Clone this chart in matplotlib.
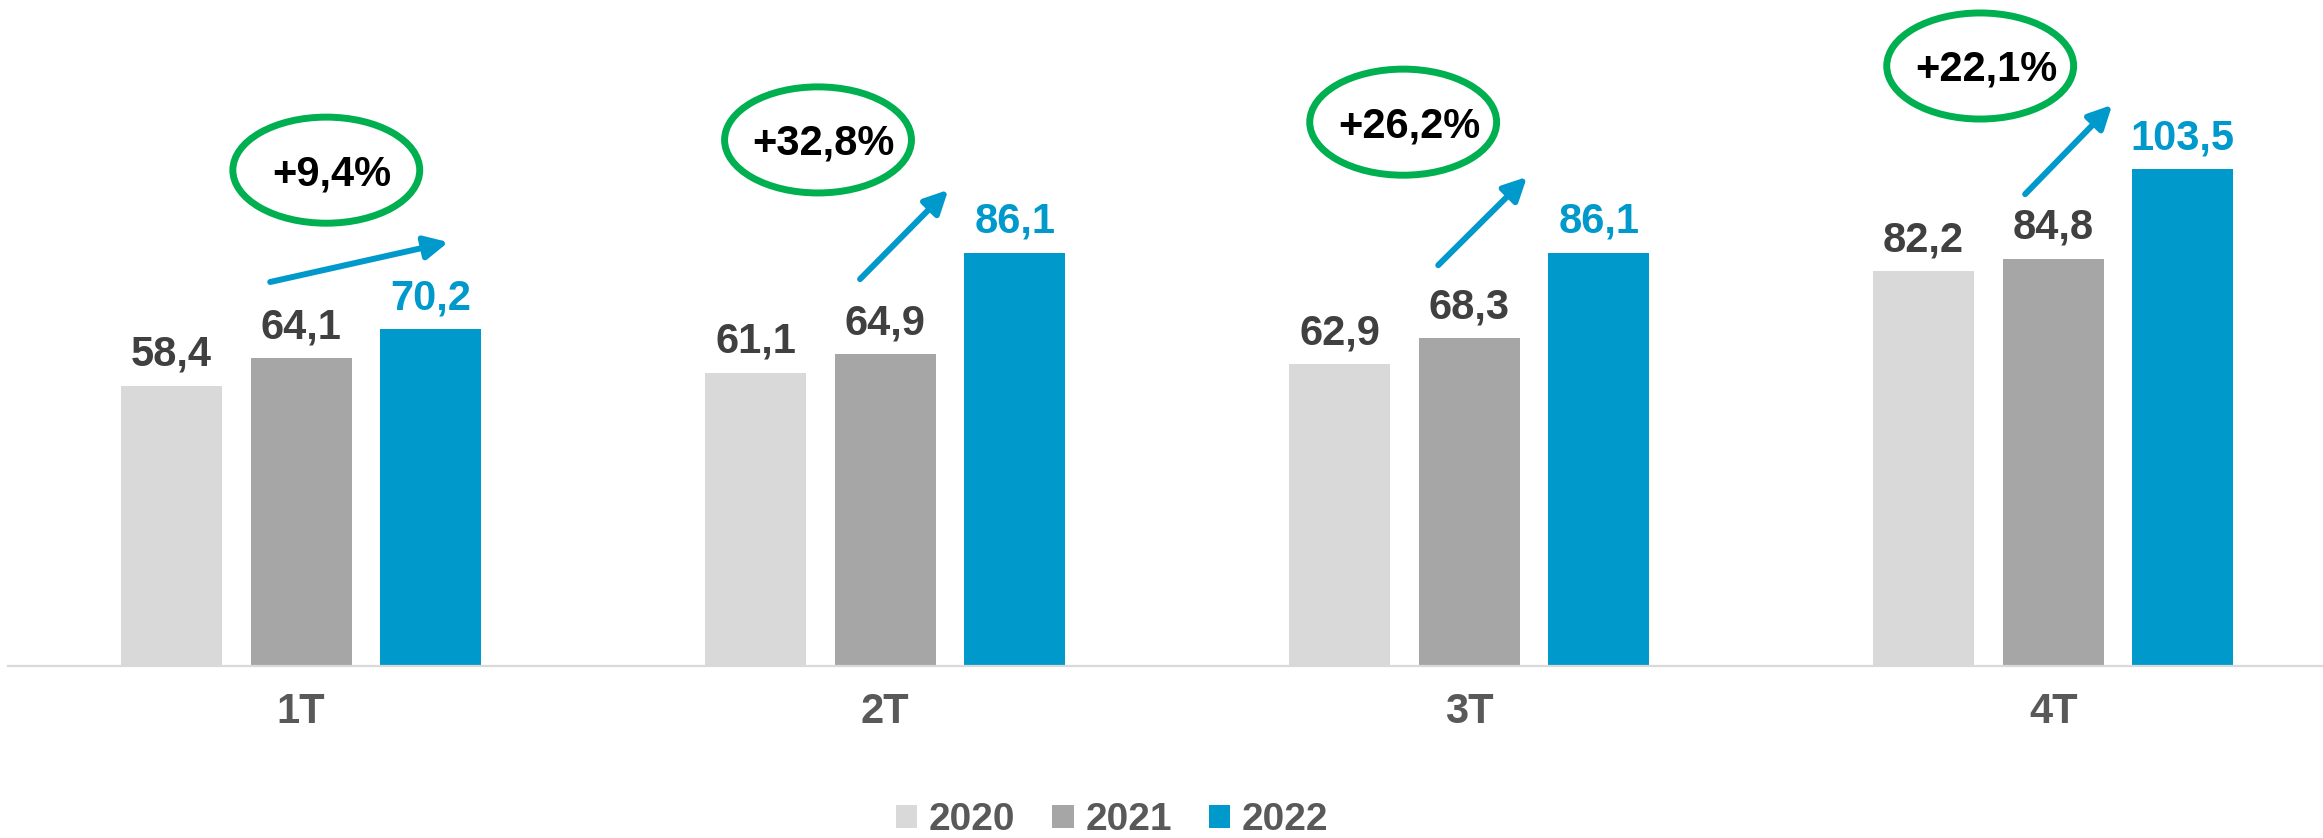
import matplotlib
matplotlib.use("Agg")
import matplotlib.pyplot as plt
from matplotlib.patches import Ellipse, Patch

# ---- data ----
quarters = ["1T", "2T", "3T", "4T"]
years = ["2020", "2021", "2022"]
v2020 = [58.4, 61.1, 62.9, 82.2]
v2021 = [64.1, 64.9, 68.3, 84.8]
v2022 = [70.2, 86.1, 86.1, 103.5]
growth_labels = ["+9,4%", "+32,8%", "+26,2%", "+22,1%"]

# ---- styling / layout ----
colors = ["#D9D9D9", "#A6A6A6", "#0099CC"]
label_colors = ["#404040", "#404040", "#0099CC"]
bar_offsets = [-0.222, 0.0, 0.222]
bar_width = 0.173
font = "Liberation Sans"

# annotation placement (offset from group centre in x, data-y)
ell_dx = [0.043, -0.115, -0.113, -0.125]
ell_y = [103.3, 109.6, 113.3, 125.0]
ell_w, ell_h = 0.32, 22.1
arr_x0 = [-0.053, -0.043, -0.053, -0.048]
arr_y0 = [80.0, 80.6, 83.5, 98.3]
arr_x1 = [0.252, 0.108, 0.099, 0.101]
arr_y1 = [88.3, 99.2, 101.9, 116.9]

W, H = 2323, 838
fig = plt.figure(figsize=(W / 100, H / 100), dpi=100)
ax = fig.add_axes([8 / W, 172 / H, 1 - 8 / W, 666 / H])

series = [v2020, v2021, v2022]
x = list(range(len(quarters)))
for s, vals in enumerate(series):
    xs = [i + bar_offsets[s] for i in x]
    ax.bar(xs, vals, width=bar_width, color=colors[s], label=years[s], zorder=2)
    for xi, v in zip(xs, vals):
        ax.annotate(f"{v:.1f}".replace(".", ","), xy=(xi, v), xytext=(0, 14.4),
                    textcoords="offset points", ha="center", va="baseline",
                    fontsize=30, fontweight="bold", color=label_colors[s],
                    family=font)

for i in x:
    cx = i + ell_dx[i]
    ax.add_patch(Ellipse((cx, ell_y[i]), ell_w, ell_h, fill=False,
                         edgecolor="#00B050", lw=5, zorder=3, clip_on=False))
    ax.text(cx + 0.01, ell_y[i] - 3.1, growth_labels[i], ha="center", va="baseline",
            fontsize=30, fontweight="bold", color="black", family=font)
    ax.annotate("", xy=(i + arr_x1[i], arr_y1[i]), xytext=(i + arr_x0[i], arr_y0[i]),
                arrowprops=dict(arrowstyle="-|>,head_length=0.7,head_width=0.35",
                                mutation_scale=20, lw=4.3, color="#0099CC",
                                shrinkA=0, shrinkB=0))

ax.set_xlim(-0.502, 3.462)
ax.set_ylim(0, 138.75)
for side in ["left", "right", "top"]:
    ax.spines[side].set_visible(False)
ax.spines["bottom"].set_color("#D9D9D9")
ax.spines["bottom"].set_linewidth(1.6)
ax.set_yticks([])
ax.set_xticks(x)
ax.set_xticklabels(quarters, fontsize=30, fontweight="bold", color="#595959",
                   family=font)
ax.tick_params(axis="x", length=0, pad=19)

handles = [Patch(facecolor=c, edgecolor="none") for c in colors]
leg = fig.legend(handles, years, loc="center", bbox_to_anchor=(1112 / W, 18 / H),
                 ncol=3, frameon=False, handlelength=0.55, handleheight=0.55,
                 handletextpad=0.3, columnspacing=0.95, borderpad=0,
                 prop=dict(family=font, weight="bold", size=28))
for t in leg.get_texts():
    t.set_color("#595959")

fig.savefig("out.png", dpi=100)
